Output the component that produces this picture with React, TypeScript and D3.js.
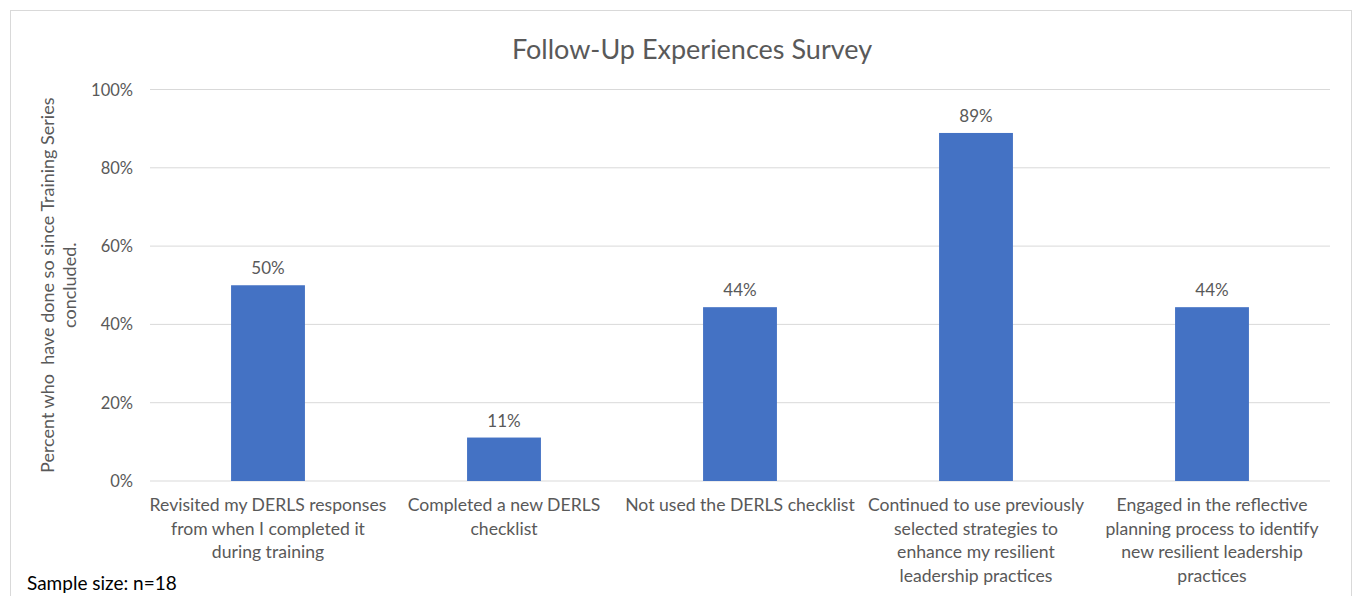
import React from "react";
import * as d3 from "d3";

const categories: string[][] = [
  ["Revisited my DERLS responses", "from when I completed it", "during training"],
  ["Completed a new DERLS", "checklist"],
  ["Not used the DERLS checklist"],
  ["Continued to use previously", "selected strategies to", "enhance my resilient", "leadership practices"],
  ["Engaged in the reflective", "planning process to identify", "new resilient leadership", "practices"],
];
const values: number[] = [0.5, 0.111, 0.444, 0.889, 0.444];
const yTicks: number[] = [0, 0.2, 0.4, 0.6, 0.8, 1.0];
const title = "Follow-Up Experiences Survey";
const yTitle = ["Percent who  have done so since Training Series", "concluded."];
const note = "Sample size: n=18";

export default function App() {
  const W = 1353, H = 596;
  const left = 150, right = 1330, top = 89.5, bottom = 481;
  const x = d3.scaleBand<number>().domain(values.map((_, i) => i)).range([left, right]).paddingInner(0.687).paddingOuter(0.3435);
  const y = d3.scaleLinear().domain([0, 1]).range([bottom, top]);
  const font = "Lato, 'Open Sans', sans-serif";
  const grey = "#595959";
  const fmt = d3.format(".0%");
  return (
    <svg width={W} height={H} style={{ position: "absolute", left: 0, top: 0 }} fontFamily={font}>
      <rect x={10.5} y={10.5} width={1341} height={600} fill="#fff" stroke="#d9d9d9" strokeWidth={1} />
      <text x={692} y={59} textAnchor="middle" fontSize={27} fill={grey}>{title}</text>
      {yTicks.map((t) => (
        <g key={t}>
          <line x1={left} x2={right} y1={y(t)} y2={y(t)} stroke="#d9d9d9" strokeWidth={1} />
          <text x={133} y={y(t) + 6} textAnchor="end" fontSize={16.5} fill={grey}>{fmt(t)}</text>
        </g>
      ))}
      {values.map((v, i) => (
        <g key={i}>
          <rect x={x(i)} y={y(v)} width={x.bandwidth()} height={y(0) - y(v)} fill="#4472C4" />
          <text x={(x(i) as number) + x.bandwidth() / 2} y={y(v) - 11} textAnchor="middle" fontSize={17} fill={grey}>{fmt(v)}</text>
          {categories[i].map((ln, j) => (
            <text key={j} x={(x(i) as number) + x.bandwidth() / 2} y={511 + j * 23.7} textAnchor="middle" fontSize={17.6} fill={grey}>{ln}</text>
          ))}
        </g>
      ))}
      <g transform={`translate(54, ${(top + bottom) / 2}) rotate(-90)`}>
        {yTitle.map((ln, j) => (
          <text key={j} x={0} y={j * 22} textAnchor="middle" fontSize={18} fill={grey} style={{ whiteSpace: "pre" }}>{ln}</text>
        ))}
      </g>
      <text x={27} y={590} fontSize={19} fill="#000">{note}</text>
    </svg>
  );
}
